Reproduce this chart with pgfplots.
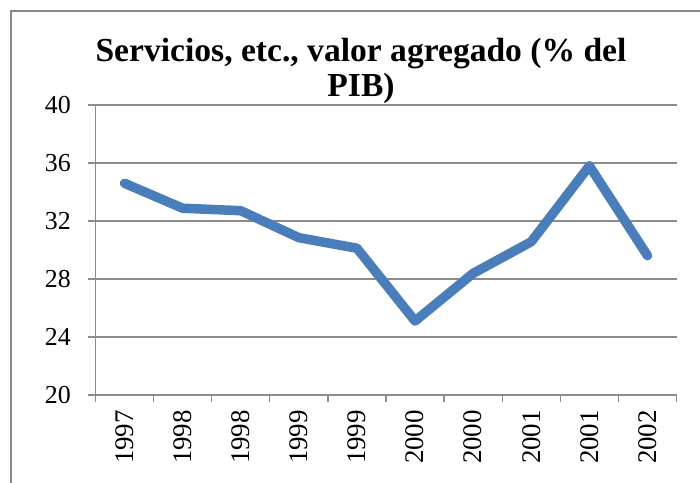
\documentclass[border=0pt]{standalone}
\usepackage{pgfplots}
\pgfplotsset{compat=1.18}
\usepackage{fontspec}
\setmainfont{Liberation Serif}
\definecolor{lineblue}{HTML}{4A7EBB}
\definecolor{gridgray}{HTML}{8C8C8C}
\definecolor{framegray}{HTML}{888888}
\begin{document}
\begin{tikzpicture}[x=1bp,y=1bp]
\useasboundingbox (0,0) rectangle (700,483);
\draw[framegray, line width=1.5bp] (11,-5) -- (11,472) -- (705,472);
\node[anchor=base, font=\fontsize{33.7}{40}\selectfont\bfseries] at (361,421.3) {Servicios, etc., valor agregado (\% del};
\node[anchor=base, font=\fontsize{33.7}{40}\selectfont\bfseries] at (361,386) {PIB)};
\begin{axis}[
  at={(95.5bp,88bp)}, anchor=south west,
  scale only axis, width=581bp, height=290bp,
  xmin=-0.5, xmax=9.5, ymin=20, ymax=40,
  ytick={20,24,28,32,36,40},
  xtick={-0.5,0.5,1.5,2.5,3.5,4.5,5.5,6.5,7.5,8.5,9.5},
  xticklabels={},
  extra x ticks={0,1,2,3,4,5,6,7,8,9},
  extra x tick labels={1997,1998,1998,1999,1999,2000,2000,2001,2001,2002},
  extra x tick style={major tick length=0pt},
  axis x line*=bottom, axis y line*=left,
  axis line style={gridgray, line width=1.3bp, -},
  tick align=outside, major tick length=7.5bp,
  tick style={gridgray, line width=1.3bp},
  ymajorgrids, grid style={gridgray, line width=1.3bp},
  /pgf/number format/assume math mode=true,
  yticklabel style={font=\fontsize{26}{26}\selectfont, anchor=east, inner sep=0pt, xshift=-17bp},
  x tick label style={font=\fontsize{27}{27}\selectfont, rotate=90, anchor=east, inner sep=0pt, xshift=-15bp},
  clip=false,
]
\addplot[lineblue, line width=9.5bp, line join=round, line cap=round] coordinates {
(0,34.6) (1,32.88) (2,32.71) (3,30.85) (4,30.12) (5,25.1) (6,28.39) (7,30.57) (8,35.8) (9,29.61)};
\end{axis}
\end{tikzpicture}
\end{document}
